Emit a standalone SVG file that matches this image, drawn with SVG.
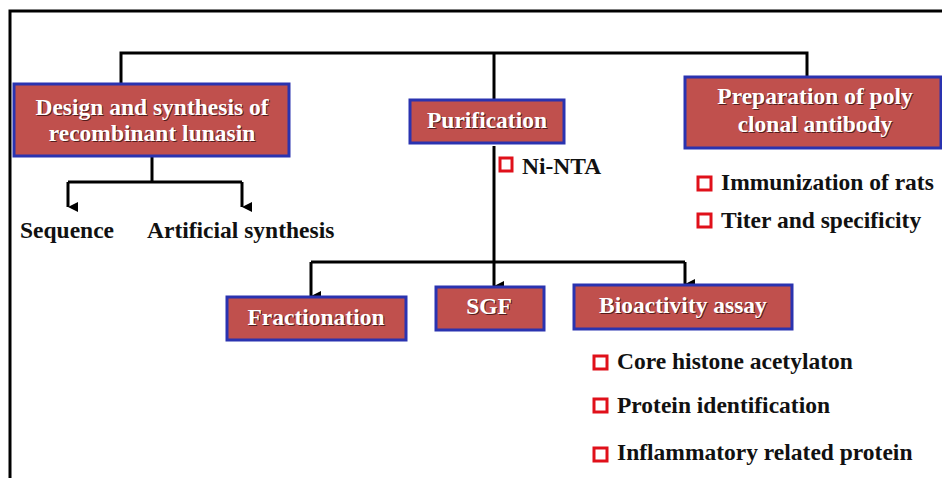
<svg xmlns="http://www.w3.org/2000/svg" width="942" height="478" viewBox="0 0 942 478">
<defs>
<style>
.box{fill:#c0504d;stroke:#2a33b0;stroke-width:3}
.bt{font-family:"Liberation Serif","Times New Roman",serif;font-weight:bold;font-size:23.5px;fill:#fff;text-anchor:middle}
.sh{font-family:"Liberation Serif","Times New Roman",serif;font-weight:bold;font-size:23.5px;fill:#3a1010;text-anchor:middle;opacity:0.8}
.t{font-family:"Liberation Serif","Times New Roman",serif;font-weight:bold;font-size:23.5px;fill:#111}
.ln{fill:none;stroke:#000;stroke-width:3}
.sq{fill:#fff;stroke:#e0101a;stroke-width:3}
</style>
<marker id="ar" viewBox="0 0 12 12" refX="6" refY="11" markerWidth="12" markerHeight="12" markerUnits="userSpaceOnUse" orient="auto-start-reverse">
<path d="M1,1 L11,1 L6,11 Z" fill="#000"/>
</marker>
</defs>
<rect x="0" y="0" width="942" height="478" fill="#fff"/>
<path d="M10,478 V11 H942" fill="none" stroke="#000" stroke-width="3"/>
<g id="connectors">
<path class="ln" d="M121,83 V53 H807 V76"/>
<path class="ln" d="M494,53 V99"/>
<path class="ln" d="M152,157 V182"/>
<path class="ln" d="M68,182 H242"/>
<path class="ln" d="M68,182 V207" marker-end="url(#ar)"/>
<path class="ln" d="M242,182 V207" marker-end="url(#ar)"/>
<path class="ln" d="M494,146 V286" marker-end="url(#ar)"/>
<path class="ln" d="M311,262 H685"/>
<path class="ln" d="M311,262 V296" marker-end="url(#ar)"/>
<path class="ln" d="M685,262 V284" marker-end="url(#ar)"/>
</g>
<g id="design">
<rect class="box" x="14" y="84" width="275" height="72"/>
<text class="sh" x="153" y="116">Design and synthesis of</text>
<text class="bt" x="152" y="115">Design and synthesis of</text>
<text class="sh" x="153" y="142">recombinant lunasin</text>
<text class="bt" x="152" y="141">recombinant lunasin</text>
</g>
<g id="purification">
<rect class="box" x="410" y="100" width="154" height="43"/>
<text class="sh" x="488" y="129">Purification</text>
<text class="bt" x="487" y="128">Purification</text>
</g>
<g id="preparation">
<rect class="box" x="685" y="77" width="256" height="71"/>
<text class="sh" x="816" y="105">Preparation of poly</text>
<text class="bt" x="815" y="104">Preparation of poly</text>
<text class="sh" x="816" y="133">clonal antibody</text>
<text class="bt" x="815" y="132">clonal antibody</text>
</g>
<g id="sequence"><text class="t" x="20" y="238">Sequence</text></g>
<g id="artificial"><text class="t" x="147" y="238">Artificial synthesis</text></g>
<g id="ninta">
<rect class="sq" x="500" y="158" width="12" height="13"/>
<text class="t" x="522" y="174">Ni-NTA</text>
</g>
<g id="antibody-items">
<rect class="sq" x="698" y="177" width="13" height="13"/>
<text class="t" x="721" y="190">Immunization of rats</text>
<rect class="sq" x="698" y="214" width="13" height="13"/>
<text class="t" x="721" y="228">Titer and specificity</text>
</g>
<g id="fractionation">
<rect class="box" x="227" y="297" width="179" height="43"/>
<text class="sh" x="317" y="326">Fractionation</text>
<text class="bt" x="316" y="325">Fractionation</text>
</g>
<g id="sgf">
<rect class="box" x="436" y="287" width="108" height="43"/>
<text class="sh" x="490" y="315">SGF</text>
<text class="bt" x="489" y="314">SGF</text>
</g>
<g id="bioactivity">
<rect class="box" x="574" y="285" width="218" height="44"/>
<text class="sh" x="684" y="314">Bioactivity assay</text>
<text class="bt" x="683" y="313">Bioactivity assay</text>
</g>
<g id="bioactivity-items">
<rect class="sq" x="594" y="356" width="13" height="13"/>
<text class="t" x="617" y="369">Core histone acetylaton</text>
<rect class="sq" x="594" y="399" width="13" height="13"/>
<text class="t" x="617" y="413">Protein identification</text>
<rect class="sq" x="594" y="448" width="13" height="13"/>
<text class="t" x="617" y="460">Inflammatory related protein</text>
</g>
</svg>
